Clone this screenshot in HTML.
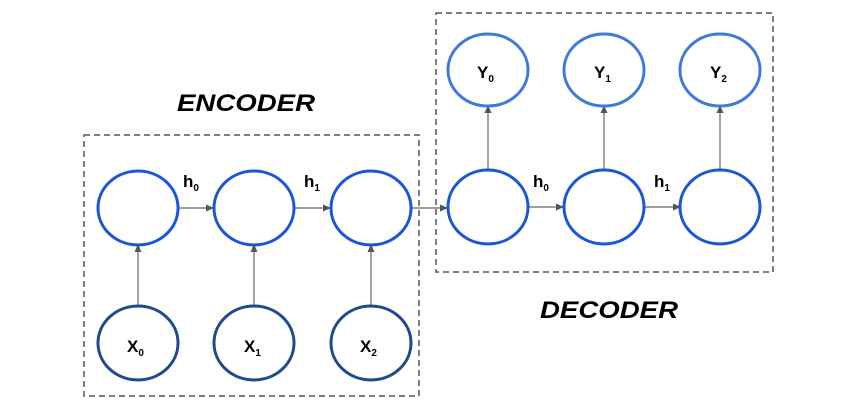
<!DOCTYPE html><html><head><style>body{margin:0;background:#fff}</style></head><body>
<svg width="852" height="402" xmlns="http://www.w3.org/2000/svg" font-family="Liberation Sans, sans-serif">
<defs><marker id="a" markerWidth="8" markerHeight="8" refX="7" refY="4" orient="auto" markerUnits="userSpaceOnUse"><path d="M0,0.5 L8,4 L0,7.5z" fill="#555"/></marker></defs>
<rect x="84" y="135" width="335" height="261" fill="none" stroke="#555" stroke-width="1.5" stroke-dasharray="6,4"/>
<rect x="436" y="13" width="337" height="259" fill="none" stroke="#555" stroke-width="1.5" stroke-dasharray="6,4"/>
<g stroke="#666" stroke-width="1.2" marker-end="url(#a)">
<line x1="178" y1="208" x2="213" y2="208"/><line x1="294" y1="208" x2="330" y2="208"/><line x1="411" y1="208" x2="447" y2="208"/>
<line x1="528" y1="207" x2="563" y2="207"/><line x1="644" y1="207" x2="680" y2="207"/>
<line x1="138" y1="306" x2="138" y2="245"/><line x1="254" y1="306" x2="254" y2="245"/><line x1="371" y1="306" x2="371" y2="245"/>
<line x1="488" y1="170" x2="488" y2="106"/><line x1="604" y1="170" x2="604" y2="106"/><line x1="720" y1="170" x2="720" y2="106"/>
</g>
<g fill="#fff" stroke-width="3">
<g stroke="#1a56d6"><ellipse cx="138" cy="208" rx="40" ry="37"/><ellipse cx="254" cy="208" rx="40" ry="37"/><ellipse cx="371" cy="208" rx="40" ry="37"/>
<ellipse cx="488" cy="207" rx="40" ry="37"/><ellipse cx="604" cy="207" rx="40" ry="37"/><ellipse cx="720" cy="207" rx="40" ry="37"/></g>
<g stroke="#1f4a8f"><ellipse cx="138" cy="343" rx="40" ry="37"/><ellipse cx="254" cy="343" rx="40" ry="37"/><ellipse cx="371" cy="343" rx="40" ry="37"/></g>
<g stroke="#3f7ad8"><ellipse cx="488" cy="70" rx="40" ry="36"/><ellipse cx="604" cy="70" rx="40" ry="36"/><ellipse cx="720" cy="70" rx="40" ry="36"/></g>
</g>
<g font-weight="bold" fill="#000" font-size="17">
<text x="127" y="352">X<tspan font-size="10" dy="4">0</tspan></text>
<text x="244" y="352">X<tspan font-size="10" dy="4">1</tspan></text>
<text x="360" y="352">X<tspan font-size="10" dy="4">2</tspan></text>
<text x="477" y="78">Y<tspan font-size="10" dy="4">0</tspan></text>
<text x="594" y="78">Y<tspan font-size="10" dy="4">1</tspan></text>
<text x="710" y="78">Y<tspan font-size="10" dy="4">2</tspan></text>
<text x="183" y="187">h<tspan font-size="10" dy="4">0</tspan></text>
<text x="304" y="187">h<tspan font-size="10" dy="4">1</tspan></text>
<text x="533" y="187">h<tspan font-size="10" dy="4">0</tspan></text>
<text x="654" y="187">h<tspan font-size="10" dy="4">1</tspan></text>
</g>
<g font-weight="bold" font-style="italic" font-size="24" fill="#000">
<text x="177" y="111" textLength="138" lengthAdjust="spacingAndGlyphs">ENCODER</text>
<text x="540" y="318" textLength="138" lengthAdjust="spacingAndGlyphs">DECODER</text>
</g>
</svg></body></html>
